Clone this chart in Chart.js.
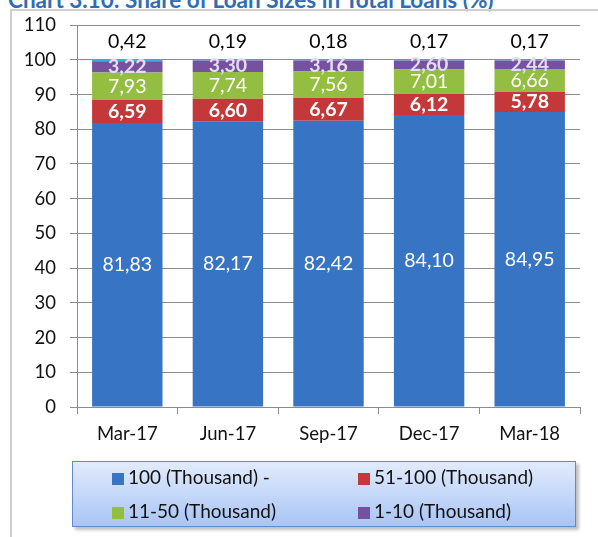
<!DOCTYPE html>
<html>
<head>
<meta charset="utf-8">
<script src="https://cdn.jsdelivr.net/npm/chart.js@4.4.1/dist/chart.umd.min.js"></script>
<style>
  html, body { margin: 0; padding: 0; background: #fff; }
  #wrap { position: relative; width: 598px; height: 537px; overflow: hidden; font-family: Lato, "Open Sans", sans-serif; }
  #title { position: absolute; left: 8px; top: -14px; font-size: 22.5px; font-weight: bold; color: #2E6DB4; white-space: nowrap; }
  #frame { position: absolute; left: 10px; top: 9px; width: 600px; height: 540px; border-left: 2px solid #cfcfcf; border-top: 2px solid #cfcfcf; }
  #myChart { position: absolute; left: 0; top: 0; }
  #legend { position: absolute; left: 72px; top: 461px; width: 504px; height: 66px; box-sizing: border-box;
    border: 1.5px solid #5F8ACB; background: linear-gradient(#e2ebfc, #a8c5f5); box-shadow: 3px 3px 3px rgba(0,0,0,0.25); }
  .item { position: absolute; font-size: 19px; color: #111; white-space: nowrap; line-height: 20px; }
  .item span { display: inline-block; width: 12px; height: 12px; margin-right: 4px; vertical-align: -1px; }
</style>
</head>
<body>
<div id="wrap">
  <div id="title">Chart 3.10: Share of Loan Sizes in Total Loans (%)</div>
  <div id="frame"></div>
  <canvas id="myChart" width="598" height="537"></canvas>
  <div id="legend"></div>
</div>
<script>
// Data
const categories = ['Mar-17', 'Jun-17', 'Sep-17', 'Dec-17', 'Mar-18'];
const big = [81.83, 82.17, 82.42, 84.10, 84.95];     // 100 (Thousand) -
const mid = [6.59, 6.60, 6.67, 6.12, 5.78];          // 51-100 (Thousand)
const small = [7.93, 7.74, 7.56, 7.01, 6.66];        // 11-50 (Thousand)
const tiny = [3.22, 3.30, 3.16, 2.60, 2.44];         // 1-10 (Thousand)
const micro = [0.42, 0.19, 0.18, 0.17, 0.17];        // top sliver
const yTicks = [0, 10, 20, 30, 40, 50, 60, 70, 80, 90, 100, 110];

const fmt = v => v.toFixed(2).replace('.', ',');

// label style per dataset: colour, weight, where
const labelStyle = [
    { color: '#ffffff', weight: 'normal', pos: 'center' },
    { color: '#ffffff', weight: 'bold', pos: 'center' },
    { color: '#ffffff', weight: 'normal', pos: 'center' },
    { color: '#e4dcf0', weight: 'bold', pos: 'center' },
    { color: '#000000', weight: 'normal', pos: 'above' },
];

const barLabels = {
    id: 'barLabels',
    afterDatasetsDraw(chart) {
        const ctx = chart.ctx;
        ctx.save();
        ctx.textAlign = 'center';
        ctx.textBaseline = 'middle';
        chart.data.datasets.forEach((ds, i) => {
            const st = labelStyle[i];
            chart.getDatasetMeta(i).data.forEach((bar, j) => {
                ctx.font = st.weight + ' 19.5px Lato, "Open Sans", sans-serif';
                ctx.fillStyle = st.color;
                const y = st.pos === 'above' ? bar.y - 18 : (bar.y + bar.base) / 2;
                ctx.fillText(fmt(ds.data[j]), bar.x, y);
            });
        });
        ctx.restore();
    }
};

const tickFont = { family: 'Lato, "Open Sans", sans-serif', size: 18.5 };

const chart = new Chart(document.getElementById('myChart').getContext('2d'), {
    type: 'bar',
    data: {
        labels: categories,
        datasets: [
            { label: '100 (Thousand) -', data: big, backgroundColor: '#3874C4' },
            { label: '51-100 (Thousand)', data: mid, backgroundColor: '#C5383A' },
            { label: '11-50 (Thousand)', data: small, backgroundColor: '#93BE41' },
            { label: '1-10 (Thousand)', data: tiny, backgroundColor: '#7651A0' },
            { label: '', data: micro, backgroundColor: '#38AEDB' },
        ]
    },
    options: {
        responsive: false,
        animation: false,
        barPercentage: 0.7,
        categoryPercentage: 1,
        layout: { padding: { top: 25, right: 18, left: 0, bottom: 0 } },
        plugins: { legend: { display: false }, tooltip: { enabled: false } },
        scales: {
            x: {
                stacked: true,
                grid: { drawOnChartArea: false, drawTicks: true, tickLength: 7, color: '#8c8c8c' },
                border: { color: '#8c8c8c' },
                ticks: { color: '#111', font: tickFont, padding: 9 },
                afterFit: s => { s.height = 130; }
            },
            y: {
                stacked: true,
                min: 0,
                max: 110,
                afterBuildTicks: s => { s.ticks = yTicks.map(v => ({ value: v })); },
                grid: { color: '#8c8c8c', tickLength: 7 },
                border: { color: '#8c8c8c' },
                ticks: { color: '#111', font: tickFont, padding: 14 },
                afterFit: s => { s.width = 77; }
            }
        }
    },
    plugins: [barLabels]
});

// legend built from the first four datasets, 2 x 2 grid
const legend = document.getElementById('legend');
chart.data.datasets.slice(0, 4).forEach((ds, i) => {
    const el = document.createElement('div');
    el.className = 'item';
    el.style.left = (i % 2 === 0 ? 39 : 285) + 'px';
    el.style.top = (i < 2 ? 5 : 39) + 'px';
    el.innerHTML = '<span style="background:' + ds.backgroundColor + '"></span>' + ds.label;
    legend.appendChild(el);
});
</script>
</body>
</html>
